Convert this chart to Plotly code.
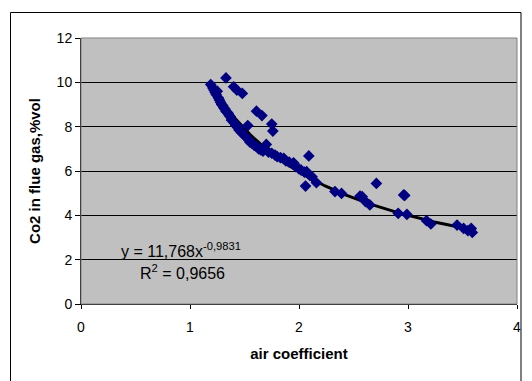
import numpy as np
import plotly.graph_objects as go

# air coefficient vs CO2 in flue gas (%vol)
air_coef = [1.19, 1.21, 1.22, 1.23, 1.24, 1.25, 1.26, 1.27, 1.28, 1.29, 1.30, 1.31, 1.32, 1.33,
            1.34, 1.35, 1.36, 1.37, 1.38, 1.40, 1.41, 1.42, 1.44, 1.45, 1.47, 1.48, 1.50, 1.52,
            1.53, 1.54, 1.55, 1.57, 1.59, 1.61, 1.63, 1.65, 1.67, 1.70, 1.72, 1.75, 1.78, 1.80,
            1.83, 1.86, 1.88, 1.91, 1.95, 1.97, 2.00, 2.02, 2.05, 2.07, 2.10, 2.12, 2.16,
            1.33, 1.40, 1.43, 1.48, 1.61, 1.66, 1.75, 1.76, 2.09, 2.06,
            2.33, 2.39, 2.56, 2.58, 2.61, 2.65, 2.71, 2.91, 2.96, 2.97, 2.99,
            3.17, 3.21, 3.45, 3.51, 3.55, 3.58, 3.59]
co2 = [9.90, 9.75, 9.65, 9.55, 9.45, 9.60, 9.30, 9.20, 9.10, 9.00, 8.95, 8.85, 8.80, 8.70,
       8.65, 8.60, 8.50, 8.45, 8.30, 8.20, 8.15, 8.05, 7.95, 7.85, 7.75, 7.70, 7.60, 7.50,
       8.05, 7.40, 7.30, 7.25, 7.15, 7.10, 7.00, 6.95, 6.90, 7.20, 6.85, 6.80, 6.72, 6.65,
       6.60, 6.57, 6.45, 6.40, 6.37, 6.20, 6.10, 6.04, 5.95, 5.97, 5.80, 5.74, 5.47,
       10.2, 9.80, 9.65, 9.50, 8.70, 8.50, 8.12, 7.80, 6.68, 5.32,
       5.07, 4.99, 4.87, 4.84, 4.62, 4.47, 5.44, 4.09, 4.92, 4.90, 4.04,
       3.76, 3.61, 3.56, 3.41, 3.31, 3.41, 3.23]

fit_a = 11.768
fit_b = -0.9831
fit_label = "y = 11,768x<sup>-0,9831</sup>"
r2_label = "R<sup>2</sup> = 0,9656"

x_ticks = [0, 1, 2, 3, 4]
y_ticks = [0, 2, 4, 6, 8, 10, 12]

xf = np.linspace(min(air_coef), max(air_coef), 200)
yf = fit_a * xf ** fit_b

fig = go.Figure()
fig.add_trace(go.Scatter(x=xf, y=yf, mode="lines",
                         line=dict(color="black", width=3), hoverinfo="skip"))
fig.add_trace(go.Scatter(x=air_coef, y=co2, mode="markers",
                         marker=dict(symbol="diamond", size=9, color="#000080",
                                     line=dict(width=0))))

OFF = 8  # page body margin
W, H = 532 - OFF, 381 - OFF
L, T = 81 - OFF, 38 - OFF
PR, PB = 517 - OFF, 304 - OFF
R, B = W - PR, H - PB
pw, ph = PR - L, PB - T

def px(x):
    return (x - OFF - L) / pw

def py(y):
    return (PB - (y - OFF)) / ph

font = dict(family="Liberation Sans, Arial, sans-serif", size=14, color="black")

fig.update_layout(
    width=W, height=H,
    margin=dict(l=L, r=R, t=T, b=B, pad=0),
    paper_bgcolor="white", plot_bgcolor="#C0C0C0",
    showlegend=False, font=font,
    xaxis=dict(range=[0, 4], tickvals=x_ticks, showgrid=False, zeroline=False,
               showline=True, linecolor="black", linewidth=1, ticks="outside",
               ticklen=4, tickcolor="black", mirror=False, ticklabelstandoff=6,
               title=dict(text="<b>air coefficient</b>", font=dict(size=15), standoff=14)),
    yaxis=dict(range=[0, 12], tickvals=y_ticks, showgrid=True, gridcolor="black",
               gridwidth=1, zeroline=False, showline=True, linecolor="black",
               linewidth=1, ticks="outside", ticklen=5, tickcolor="black",
               title=dict(text="<b>Co2 in flue gas,%vol</b>", font=dict(size=15), standoff=12)),
    shapes=[
        dict(type="rect", xref="paper", yref="paper", x0=0, x1=1, y0=0, y1=1,
             line=dict(color="#808080", width=1), layer="above"),
        dict(type="rect", xref="paper", yref="paper", x0=px(10.5), x1=px(521),
             y0=py(395), y1=py(12.5), line=dict(color="black", width=1)),
    ],
    annotations=[
        dict(text=fit_label, x=px(181), y=py(262), xref="paper", yref="paper",
             xanchor="center", yanchor="bottom", showarrow=False, font=dict(size=16)),
        dict(text=r2_label, x=px(182.5), y=py(284), xref="paper", yref="paper",
             xanchor="center", yanchor="bottom", showarrow=False, font=dict(size=16)),
    ],
)

fig.write_html("out.html")
